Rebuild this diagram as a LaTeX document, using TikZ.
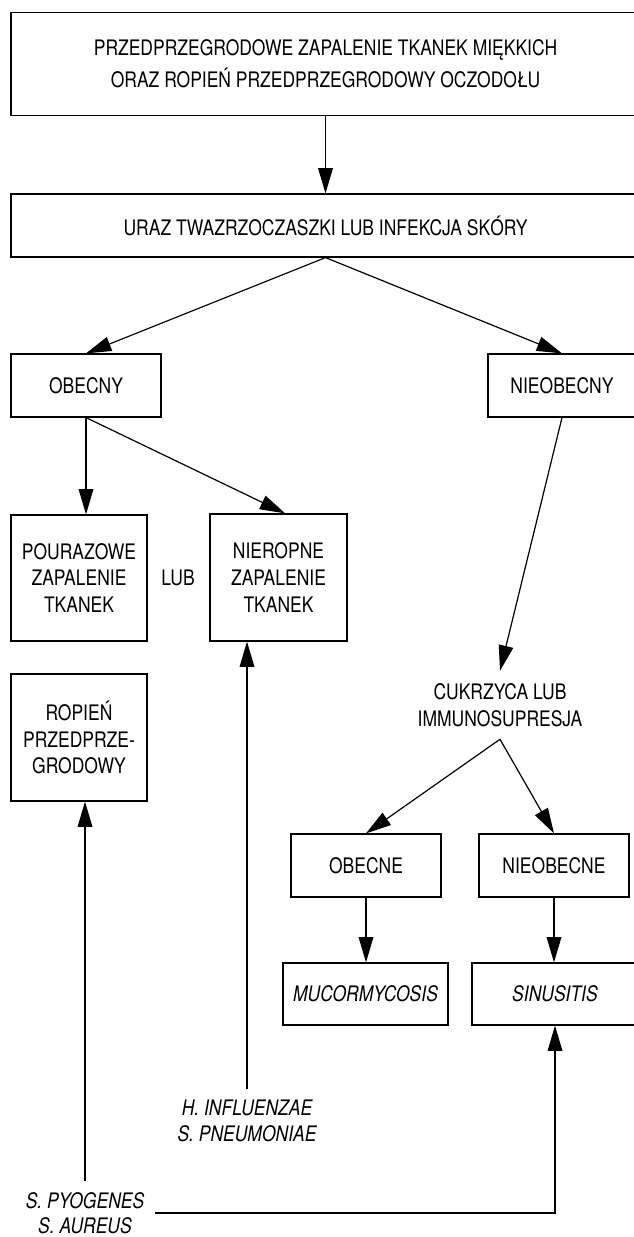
\documentclass[tikz,border=0pt]{standalone}
\usepackage{fontspec}
\setmainfont{TeX Gyre Heros}[FakeStretch=0.82]
\usetikzlibrary{arrows.meta}

\tikzset{
  box/.style={draw, line width=0.9pt, align=center, inner sep=0pt},
  lbl/.style={align=center, inner sep=8pt},
  arr/.style={line width=0.9pt, -{Triangle[length=19pt,width=11pt]}},
  conn/.style={line width=0.9pt}
}

\begin{document}
\begin{tikzpicture}[x=0.75pt,y=-0.75pt,font=\fontsize{16}{20}\selectfont]
\useasboundingbox (0,0) rectangle (634,1237);
\clip (0,0) rectangle (634,1237);

% first row
\node[box, minimum width=471.75pt, minimum height=77pt, font=\fontsize{16}{24}\selectfont] (tissue) at (325.5,64)
  {PRZEDPRZEGRODOWE ZAPALENIE TKANEK MIĘKKICH\\ORAZ ROPIEŃ PRZEDPRZEGRODOWY OCZODOŁU};
\node[box, minimum width=471.75pt, minimum height=47.25pt] (trauma) at (325.5,225.5)
  {URAZ TWAZRZOCZASZKI LUB INFEKCJA SKÓRY};

% present / absent
\node[box, minimum width=112.5pt, minimum height=47.25pt] (present) at (86,385.5) {OBECNY};
\node[box, minimum width=111pt, minimum height=47.25pt] (absent) at (562,385.5) {NIEOBECNY};

% left branch
\node[box, minimum width=102pt, minimum height=94.5pt] (posttrauma) at (79,578)
  {POURAZOWE\\ZAPALENIE\\TKANEK};
\node (lub) at (178,578) {LUB};
\node[box, minimum width=102.75pt, minimum height=95.25pt] (nonsupp) at (278.5,577.5)
  {NIEROPNE\\ZAPALENIE\\TKANEK};
\node[box, minimum width=102pt, minimum height=95.25pt] (abscess) at (79,737.5)
  {ROPIEŃ\\PRZEDPRZE-\\GRODOWY};

% right branch
\node[align=center, minimum height=51pt, font=\fontsize{16}{20}\selectfont] (diabetes) at (500,705)
  {CUKRZYCA LUB\\IMMUNOSUPRESJA};
\node[box, minimum width=112.5pt, minimum height=47.25pt] (present2) at (366,865.5) {OBECNE};
\node[box, minimum width=112.5pt, minimum height=47.25pt] (absent2) at (554,865.5) {NIEOBECNE};
\node[box, minimum width=123.75pt, minimum height=46.5pt] (mucor) at (365.5,994) {\itshape MUCORMYCOSIS};
\node[box, minimum width=124.5pt, minimum height=46.5pt] (sinus) at (555,994) {\itshape SINUSITIS};

% organisms
\node[lbl, font=\fontsize{16}{19}\selectfont\itshape] (hflu) at (247,1121)
  {H. INFLUENZAE\\S. PNEUMONIAE};
\node[lbl, font=\fontsize{16}{19}\selectfont\itshape] (pyo) at (85,1213)
  {S. PYOGENES\\S. AUREUS};

% connectors
\draw[arr] (tissue.south) -- (trauma.north);
\draw[arr] (trauma.south) -- (present.north);
\draw[arr] (trauma.south) -- (absent.north);
\draw[arr] (present.south) -- (present.south |- posttrauma.north);
\draw[arr] (present.south) -- ([xshift=5pt]nonsupp.north);
\draw[arr] (absent.south) -- (diabetes.north);
\draw[arr] (diabetes.south) -- (present2.north);
\draw[arr] (diabetes.south) -- (absent2.north);
\draw[arr] (present2.south) -- (present2.south |- mucor.north);
\draw[arr] (absent2.south) -- (absent2.south |- sinus.north);
\draw[arr] (hflu.north) -- (hflu.north |- nonsupp.south);
\draw[arr] (pyo.north) -- (pyo.north |- abscess.south);
\draw[arr] (pyo.east) -| (sinus.south);
\end{tikzpicture}
\end{document}
